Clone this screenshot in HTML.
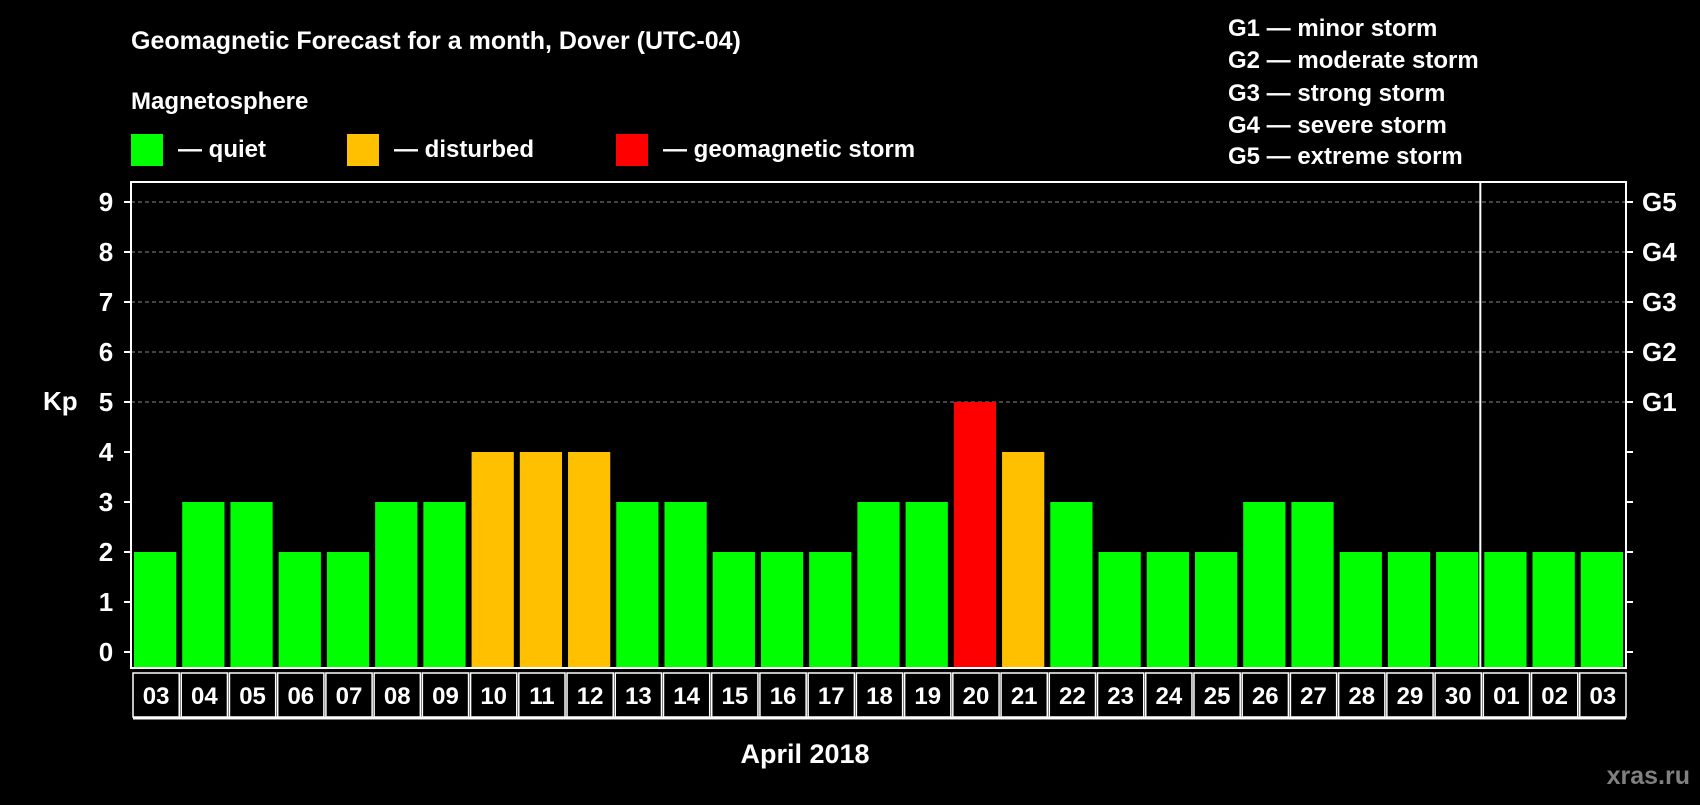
<!DOCTYPE html>
<html><head><meta charset="utf-8"><style>
html,body{margin:0;background:#000;}
svg text{font-family:"Liberation Sans",Arial,sans-serif;font-weight:bold;fill:#fff;}
</style></head><body>
<svg id="chart" width="1700" height="800" viewBox="0 0 1700 800" xmlns="http://www.w3.org/2000/svg">
<rect width="1700" height="800" fill="#000"/>
<text x="131" y="49" font-size="25">Geomagnetic Forecast for a month, Dover (UTC-04)</text>
<text x="131" y="109" font-size="24">Magnetosphere</text>
<rect x="131" y="134" width="32" height="32" fill="#00ff00"/>
<text x="178" y="157" font-size="24">— quiet</text>
<rect x="347" y="134" width="32" height="32" fill="#ffc000"/>
<text x="394" y="157" font-size="24">— disturbed</text>
<rect x="616" y="134" width="32" height="32" fill="#ff0000"/>
<text x="663" y="157" font-size="24">— geomagnetic storm</text>
<g font-size="24">
<text x="1228" y="36">G1 — minor storm</text>
<text x="1228" y="68">G2 — moderate storm</text>
<text x="1228" y="101">G3 — strong storm</text>
<text x="1228" y="133">G4 — severe storm</text>
<text x="1228" y="164">G5 — extreme storm</text>
</g>
<text x="43" y="410" font-size="26">Kp</text>
<text x="805" y="763" font-size="27" text-anchor="middle">April 2018</text>
<text x="1690" y="784" font-size="25" text-anchor="end" style="fill:#808080">xras.ru</text>
<g id="plot"></g>
</svg>
<script>
const categories=["03","04","05","06","07","08","09","10","11","12","13","14","15","16","17","18","19","20","21","22","23","24","25","26","27","28","29","30","01","02","03"];
const kpValues=[2,3,3,2,2,3,3,4,4,4,3,3,2,2,2,3,3,5,4,3,2,2,2,3,3,2,2,2,2,2,2];
const yTicks=[0,1,2,3,4,5,6,7,8,9];
const gLabels=["G1","G2","G3","G4","G5"];
const NS="http://www.w3.org/2000/svg";
const L=131,R=1626,T=182,B=668,Y0=652,UNIT=50;
const y=v=>Y0-v*UNIT;
const slot=(R-L)/categories.length;
const x=i=>L+i*slot;
const g=document.getElementById('plot');
function mk(t,a,p){const e=document.createElementNS(NS,t);for(const k in a)e.setAttribute(k,a[k]);(p||g).appendChild(e);return e;}
// grid
for(let v=5;v<=9;v++){
  const ln=mk('line',{x1:L,x2:R,y1:y(v),y2:y(v),stroke:'#888','stroke-dasharray':'4,3','stroke-width':1});
  
  
}
// bars
kpValues.forEach((v,i)=>{
  const c=v>=5?'#ff0000':(v>=4?'#ffc000':'#00ff00');
  const b=mk('rect',{x:x(i)+3,y:y(v),width:slot-6,height:B-y(v),fill:c});
  
  
});
// month separator
const sep=mk('line',{x1:x(28)-1,x2:x(28)-1,y1:T,y2:B,stroke:'#fff','stroke-width':2});


// frame
const fr=mk('rect',{x:L,y:T,width:R-L,height:B-T,fill:'none',stroke:'#fff','stroke-width':2});


// y ticks
yTicks.forEach(v=>{
  mk('line',{x1:L-7,x2:L,y1:y(v),y2:y(v),stroke:'#fff','stroke-width':2});
  mk('line',{x1:R,x2:R+7,y1:y(v),y2:y(v),stroke:'#fff','stroke-width':2});
  const t=mk('text',{x:106,y:y(v)+9,'font-size':26,'text-anchor':'middle'});
  t.textContent=v;
  
  
});
gLabels.forEach((s,i)=>{
  const t=mk('text',{x:1642,y:y(5+i)+9,'font-size':26});
  t.textContent=s;
  
  
});
// x labels in boxes
categories.forEach((c,i)=>{
  const r=mk('rect',{x:x(i)+2,y:673,width:slot-2,height:44,fill:'none',stroke:'#fff','stroke-width':1.5});
  
  
  const t=mk('text',{x:x(i)+slot/2+1,y:704,'font-size':24,'text-anchor':'middle'});
  t.textContent=c;
  
  
});
const bl=mk('line',{x1:L+2,x2:R,y1:718,y2:718,stroke:'#fff','stroke-width':3});


</script>
</body></html>
